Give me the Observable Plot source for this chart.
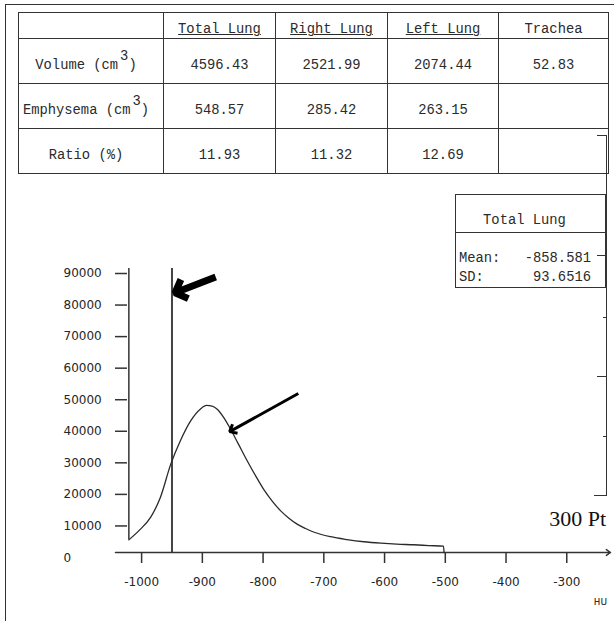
<!DOCTYPE html>
<html>
<head>
<meta charset="utf-8">
<script src="https://cdn.jsdelivr.net/npm/d3@7"></script>
<script src="https://cdn.jsdelivr.net/npm/@observablehq/plot@0.6"></script>
<style>
  body { margin: 0; background: #fff; }
  #wrap { position: relative; width: 616px; height: 621px; overflow: hidden;
          font-family: "Liberation Mono", "DejaVu Sans Mono", monospace; color: #2b2b2b; }
  #plot { position: absolute; left: 0; top: 0; }
  #frame { position: absolute; left: 5px; top: 4px; width: 608px; height: 630px;
           border-top: 1.5px solid #333; border-left: 1.5px solid #333; }
  #tbl { position: absolute; left: 18px; top: 12px; border-collapse: collapse;
         table-layout: fixed; width: 590px; font-size: 13.8px; }
  #tbl td { border: 1.5px solid #333; text-align: center; padding: 0; white-space: nowrap; overflow: visible; }
  #tbl tr.head td { vertical-align: bottom; padding-bottom: 2px; line-height: 13px; }
  #tbl tr.body td { vertical-align: middle; padding-top: 9px; }
  #tbl td.lab { padding-right: 10px; }
  .u { text-decoration: underline; text-underline-offset: 1px; text-decoration-thickness: 1px; }
  .sup { position: relative; top: -9px; margin-left: 2px; }
  #stats { position: absolute; left: 455px; top: 194px; width: 151px; height: 94px;
           border: 1.5px solid #333; font-size: 13.8px; box-sizing: border-box; }
  #stats .hd { position: absolute; left: 0; top: 0; width: 100%; height: 38px;
               border-bottom: 1.5px solid #333; box-sizing: border-box; }
  #stats .hd span { position: absolute; left: 0; width: 100%; top: 18px; text-align: center;
                    line-height: 16px; padding-right: 12px; box-sizing: border-box; }
  #stats .row { position: absolute; left: 3px; right: 14px; height: 16px; line-height: 16px; }
  #stats .row .v { position: absolute; right: 0; top: 0; }
  .raxis { position: absolute; left: 606px; top: 135px; height: 361px; border-left: 1.5px solid #333; }
  .rtick { position: absolute; height: 0; border-top: 1.5px solid #333; }
  #pt { position: absolute; right: 10px; top: 505px; font-family: "Liberation Serif", serif;
        font-size: 22px; color: #111; line-height: 28px; }
  #hu { position: absolute; right: 9px; top: 596px; font-family: "Liberation Mono", monospace;
        font-size: 11px; color: #333; }
</style>
</head>
<body>
<div id="wrap">
  <div id="plot"></div>
  <div id="frame"></div>
</div>
<script>
// ---- Data ----
const tableColumns = ["", "Total Lung", "Right Lung", "Left Lung", "Trachea"];
const rowLabels = ["Volume (cm", "Emphysema (cm", "Ratio (%)"];
const rowUnitsSup = ["3", "3", ""];
const volumeValues = ["4596.43", "2521.99", "2074.44", "52.83"];
const emphysemaValues = ["548.57", "285.42", "263.15", ""];
const ratioValues = ["11.93", "11.32", "12.69", ""];

const statsTitle = "Total Lung";
const statsLabels = ["Mean:", "SD:"];
const statsValues = ["-858.581", "93.6516"];

const hu = [-1021, -1004, -985, -969, -952, -936, -919, -903, -893, -884, -875, -865, -855, -841,
            -826, -812, -799, -785, -771, -757, -744, -730, -717, -689, -662, -634, -606, -580,
            -552, -527, -503, -502];
const voxelCount = [4000, 7000, 11200, 17500, 28000, 35500, 41800, 45500, 46600, 46400, 45300, 42800, 39600, 34500,
                    29000, 24200, 20000, 16300, 13200, 10800, 9000, 7600, 6500, 5000, 4100, 3400, 2950, 2650,
                    2450, 2200, 2000, 0];
const thresholdHU = -950;
const xTicks = [-1000, -900, -800, -700, -600, -500, -400, -300];
const yTicks = [0, 10000, 20000, 30000, 40000, 50000, 60000, 70000, 80000, 90000];
const xDomain = [-1043, -228];
const thickArrow = {fromHU: -878, fromCount: 87300, toHU: -945, toCount: 82300};
const thinArrow = {fromHU: -742, fromCount: 50400, toHU: -855, toCount: 38300};
const cornerText = "300 Pt";
const xUnit = "HU";

// ---- Chart ----
const series = hu.map((h, i) => ({hu: h, count: voxelCount[i]}));
const ink = "#333";
const chart = Plot.plot({
  width: 616, height: 621,
  marginTop: 268, marginBottom: 69, marginLeft: 115, marginRight: 6,
  x: {domain: xDomain},
  y: {domain: [0, d3.max(yTicks)]},
  style: {fontFamily: "DejaVu Sans", fontSize: "12px", color: ink, background: "transparent", overflow: "visible"},
  marks: [
    Plot.axisX({ticks: xTicks, tickSize: 11, tickPadding: 14, tickFormat: d => String(d), label: null,
                stroke: ink, strokeWidth: 1.5, fill: "#262626", letterSpacing: 1.2}),
    Plot.axisY({ticks: yTicks.filter(d => d > 0), tickSize: 12, dx: 12, tickPadding: 52, textAnchor: "start", dy: 5,
                tickFormat: d => String(d), label: null, stroke: ink, strokeWidth: 1.5, fill: "#262626", letterSpacing: 1}),
    Plot.text([0], {frameAnchor: "left", y: d => d, text: d => String(d), dx: -52, dy: 6, textAnchor: "start",
                fill: "#262626", fontSize: 12}),
    Plot.arrow([0], {x1: xDomain[0], x2: xDomain[1], y1: 0, y2: 0, stroke: ink, strokeWidth: 1.5, headLength: 5, headAngle: 70}),
    Plot.ruleX([hu[0]], {y1: voxelCount[0], y2: d3.max(yTicks), stroke: ink, strokeWidth: 1.5}),
    Plot.ruleX([thresholdHU], {y1: 0, y2: d3.max(yTicks), stroke: "#444", strokeWidth: 2}),
    Plot.line(series, {x: "hu", y: "count", curve: "monotone-x", stroke: "#2a2a2a", strokeWidth: 1.3}),
    Plot.arrow([thickArrow], {x1: "fromHU", y1: "fromCount", x2: "toHU", y2: "toCount",
                stroke: "#000", strokeWidth: 7, headLength: 6, headAngle: 90, strokeLinejoin: "miter", strokeLinecap: "butt"}),
    Plot.arrow([thinArrow], {x1: "fromHU", y1: "fromCount", x2: "toHU", y2: "toCount",
                stroke: "#000", strokeWidth: 3, headLength: 4, headAngle: 80, strokeLinejoin: "miter", strokeLinecap: "butt"})
  ]
});
document.getElementById("plot").appendChild(chart);

// ---- Table ----
const wrap = document.getElementById("wrap");
const tbl = document.createElement("table");
tbl.id = "tbl";
const colgroup = document.createElement("colgroup");
[145, 112, 112, 111, 110].forEach(w => { const c = document.createElement("col"); c.style.width = w + "px"; colgroup.appendChild(c); });
tbl.appendChild(colgroup);
const head = document.createElement("tr");
head.className = "head"; head.style.height = "26px";
tableColumns.forEach((c, i) => {
  const td = document.createElement("td");
  const s = document.createElement("span");
  s.textContent = c;
  if (i >= 1 && i <= 3) s.className = "u";
  td.appendChild(s);
  head.appendChild(td);
});
tbl.appendChild(head);
[volumeValues, emphysemaValues, ratioValues].forEach((vals, r) => {
  const tr = document.createElement("tr");
  tr.className = "body"; tr.style.height = "45px";
  const lab = document.createElement("td");
  lab.className = "lab";
  lab.appendChild(document.createTextNode(rowLabels[r]));
  if (rowUnitsSup[r]) {
    const s = document.createElement("span"); s.className = "sup"; s.textContent = rowUnitsSup[r];
    lab.appendChild(s);
    lab.appendChild(document.createTextNode(")"));
  }
  tr.appendChild(lab);
  vals.forEach(v => { const td = document.createElement("td"); td.textContent = v; tr.appendChild(td); });
  tbl.appendChild(tr);
});
wrap.appendChild(tbl);

// ---- Right decorative axis ----
const rax = document.createElement("div"); rax.className = "raxis"; wrap.appendChild(rax);
[[135, 10], [255, 10], [317, 4], [376, 10], [436, 4], [495, 13]].forEach(([y, len]) => {
  const t = document.createElement("div"); t.className = "rtick";
  t.style.top = y + "px"; t.style.left = (607 - len) + "px"; t.style.width = len + "px";
  wrap.appendChild(t);
});

// ---- Stats box ----
const stats = document.createElement("div"); stats.id = "stats";
const hd = document.createElement("div"); hd.className = "hd";
const hs = document.createElement("span"); hs.textContent = statsTitle; hd.appendChild(hs);
stats.appendChild(hd);
statsLabels.forEach((l, i) => {
  const row = document.createElement("div"); row.className = "row";
  row.style.top = (56 + i * 19) + "px";
  const a = document.createElement("span"); a.textContent = l;
  const b = document.createElement("span"); b.className = "v"; b.textContent = statsValues[i];
  row.appendChild(a); row.appendChild(b);
  stats.appendChild(row);
});
wrap.appendChild(stats);

const pt = document.createElement("div"); pt.id = "pt"; pt.textContent = cornerText; wrap.appendChild(pt);
const hu2 = document.createElement("div"); hu2.id = "hu"; hu2.textContent = xUnit; wrap.appendChild(hu2);
</script>
</body>
</html>
